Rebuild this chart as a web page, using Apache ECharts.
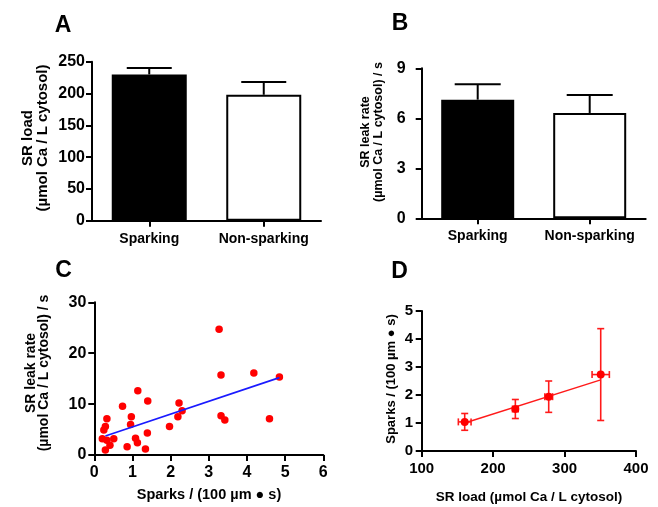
<!DOCTYPE html>
<html><head><meta charset="utf-8">
<script src="https://cdn.jsdelivr.net/npm/echarts@6/dist/echarts.min.js"></script>
<style>html,body{margin:0;padding:0;background:#fff}#c{width:658px;height:507px}</style>
</head><body><div id="c"></div>
<script>
// ---- data ----
const groups = ['Sparking', 'Non-sparking'];
const srLoadMean = [230, 198];
const srLoadSem = [10, 20];
const leakMean = [7.12, 6.32];
const leakSem = [0.92, 1.08];
const sparkRate = [3.27, 3.32, 4.18, 4.85, 3.32, 3.42, 4.59, 2.22, 2.30, 2.19, 1.97, 1.14, 1.40, 0.74, 0.97, 0.95, 1.39, 1.08, 1.13, 0.86, 1.34, 0.33, 0.29, 0.25, 0.21, 0.51, 0.41, 0.29, 0.33];
const leakRate  = [24.7, 15.7, 16.1, 15.3, 7.7, 6.9, 7.1, 10.2, 8.7, 7.5, 5.6, 12.6, 10.6, 9.6, 7.5, 6.0, 4.3, 3.3, 2.4, 1.6, 1.2, 7.1, 5.6, 4.9, 3.2, 3.2, 1.9, 1.0, 2.9];
const fitC = [[0.29, 3.73], [4.85, 15.2]];
const binLoad = [160.2, 231.1, 277.8, 350.6];
const binLoadSem = [8.9, 4, 5.4, 12.1];
const binSparks = [1.04, 1.5, 1.94, 2.73];
const binSparksSem = [0.3, 0.34, 0.56, 1.64];
const fitD = [[160.2, 1.0], [350.6, 2.54]];
const ticksA = [0, 250, 50], ticksB = [0, 9, 3], ticksCx = [0, 6, 1], ticksCy = [0, 30, 10], ticksDx = [100, 400, 100], ticksDy = [0, 5, 1];

// ---- styles ----
const FF = '"Liberation Sans", Arial, "DejaVu Sans", sans-serif';
const axLine = {show: true, lineStyle: {color: '#000', width: 2}};
const axTick = {show: true, length: 6, lineStyle: {color: '#000', width: 2}};
function valAxis(idx, t, fs, margin) {
  return {type: 'value', gridIndex: idx, min: t[0], max: t[1], interval: t[2],
    axisLine: axLine, axisTick: axTick, splitLine: {show: false},
    axisLabel: {color: '#000', fontFamily: FF, fontWeight: 'bold', fontSize: fs, margin: margin}};
}
function catAxis(idx) {
  return {type: 'category', gridIndex: idx, data: groups,
    axisLine: axLine, axisTick: Object.assign({alignWithLabel: true}, axTick),
    axisLabel: {color: '#000', fontFamily: FF, fontWeight: 'bold', fontSize: 14, margin: 11, interval: 0}};
}
function barErr(half) {
  return function (params, api) {
    const p0 = api.coord([api.value(0), api.value(1)]);
    const p1 = api.coord([api.value(0), api.value(2)]);
    const st = {stroke: '#000', lineWidth: 2};
    return {type: 'group', children: [
      {type: 'line', shape: {x1: p0[0], y1: p0[1], x2: p1[0], y2: p1[1]}, style: st},
      {type: 'line', shape: {x1: p1[0] - half, y1: p1[1], x2: p1[0] + half, y2: p1[1]}, style: st}
    ]};
  };
}
function xyErr(params, api) {
  const x = api.value(0), y = api.value(1), ex = api.value(2), ey = api.value(3);
  const l = api.coord([x - ex, y]), r = api.coord([x + ex, y]);
  const t = api.coord([x, y + ey]), b = api.coord([x, y - ey]);
  const h = 3.5;
  const st = {stroke: '#ff1a1a', lineWidth: 1.6};
  const L = (x1, y1, x2, y2) => ({type: 'line', shape: {x1, y1, x2, y2}, style: st});
  return {type: 'group', children: [
    L(l[0], l[1], r[0], r[1]), L(t[0], t[1], b[0], b[1]),
    L(l[0], l[1] - h, l[0], l[1] + h), L(r[0], r[1] - h, r[0], r[1] + h),
    L(t[0] - h, t[1], t[0] + h, t[1]), L(b[0] - h, b[1], b[0] + h, b[1])
  ]};
}
const barColors = ['#000', '#fff'];

function gText(text, x, y, fs, rot, lh) {
  return {type: 'text', x: x, y: y, rotation: rot ? Math.PI / 2 : 0,
    style: {text: text, fill: '#000', font: 'bold ' + fs + 'px ' + FF, align: 'center', verticalAlign: 'middle', lineHeight: lh || fs}};
}

const chart = echarts.init(document.getElementById('c'), null, {renderer: 'canvas'});
chart.setOption({
  animation: false,
  backgroundColor: '#fff',
  grid: [
    {left: 92, top: 61.7, width: 229, height: 159},
    {left: 421.7, top: 68.3, width: 224, height: 150},
    {left: 94.3, top: 302.3, width: 229, height: 152.7},
    {left: 421.7, top: 311, width: 214.3, height: 140}
  ],
  xAxis: [
    catAxis(0), catAxis(1),
    valAxis(2, ticksCx, 16, 10),
    valAxis(3, ticksDx, 15, 10)
  ],
  yAxis: [
    valAxis(0, ticksA, 16, 7),
    valAxis(1, ticksB, 16, 16),
    valAxis(2, ticksCy, 16, 8),
    valAxis(3, ticksDy, 15, 8.5)
  ],
  series: [
    {type: 'bar', xAxisIndex: 0, yAxisIndex: 0, barWidth: 75, z: 2,
      data: srLoadMean.map((v, i) => ({value: v, itemStyle: {color: barColors[i], borderColor: '#000', borderWidth: 2}}))},
    {type: 'custom', xAxisIndex: 0, yAxisIndex: 0, z: 3, renderItem: barErr(22.5),
      data: srLoadMean.map((v, i) => [i, v, v + srLoadSem[i]]), encode: {x: 0, y: [1, 2]}},
    {type: 'bar', xAxisIndex: 1, yAxisIndex: 1, barWidth: 73, z: 2,
      data: leakMean.map((v, i) => ({value: v, itemStyle: {color: barColors[i], borderColor: '#000', borderWidth: 2}}))},
    {type: 'custom', xAxisIndex: 1, yAxisIndex: 1, z: 3, renderItem: barErr(23),
      data: leakMean.map((v, i) => [i, v, v + leakSem[i]]), encode: {x: 0, y: [1, 2]}},
    {type: 'scatter', xAxisIndex: 2, yAxisIndex: 2, symbol: 'circle', symbolSize: 7.5,
      itemStyle: {color: '#ff0000', opacity: 1}, z: 3,
      data: sparkRate.map((x, i) => [x, leakRate[i]])},
    {type: 'line', xAxisIndex: 2, yAxisIndex: 2, symbol: 'none', z: 4,
      lineStyle: {color: '#1a1aff', width: 1.6}, data: fitC},
    {type: 'line', xAxisIndex: 3, yAxisIndex: 3, symbol: 'none', z: 2,
      lineStyle: {color: '#ff1a1a', width: 1.4}, data: fitD},
    {type: 'custom', xAxisIndex: 3, yAxisIndex: 3, z: 3, renderItem: xyErr,
      data: binLoad.map((x, i) => [x, binSparks[i], binLoadSem[i], binSparksSem[i]]), encode: {x: 0, y: 1}},
    {type: 'scatter', xAxisIndex: 3, yAxisIndex: 3, symbol: 'circle', symbolSize: 8, z: 4,
      itemStyle: {color: '#ff0000', opacity: 1},
      data: binLoad.map((x, i) => [x, binSparks[i]])}
  ],
  graphic: [
    gText('A', 63, 26, 23),
    gText('B', 400, 24, 23),
    gText('C', 63.5, 271, 23),
    gText('D', 399.5, 272, 23),
    gText('SR load\n(µmol Ca / L cytosol)', 35, 138, 15, true, 15),
    gText('SR leak rate\n(µmol Ca / L cytosol) / s', 372, 132, 12.5, true, 13),
    gText('SR leak rate\n(µmol Ca / L cytosol) / s', 37.5, 373, 14, true, 13.5),
    gText('Sparks / (100 µm ● s)', 391, 379, 13, true),
    gText('Sparks / (100 µm ● s)', 209, 495, 14.5),
    gText('SR load (µmol Ca / L cytosol)', 529, 497, 13.5)
  ]
});
</script></body></html>
